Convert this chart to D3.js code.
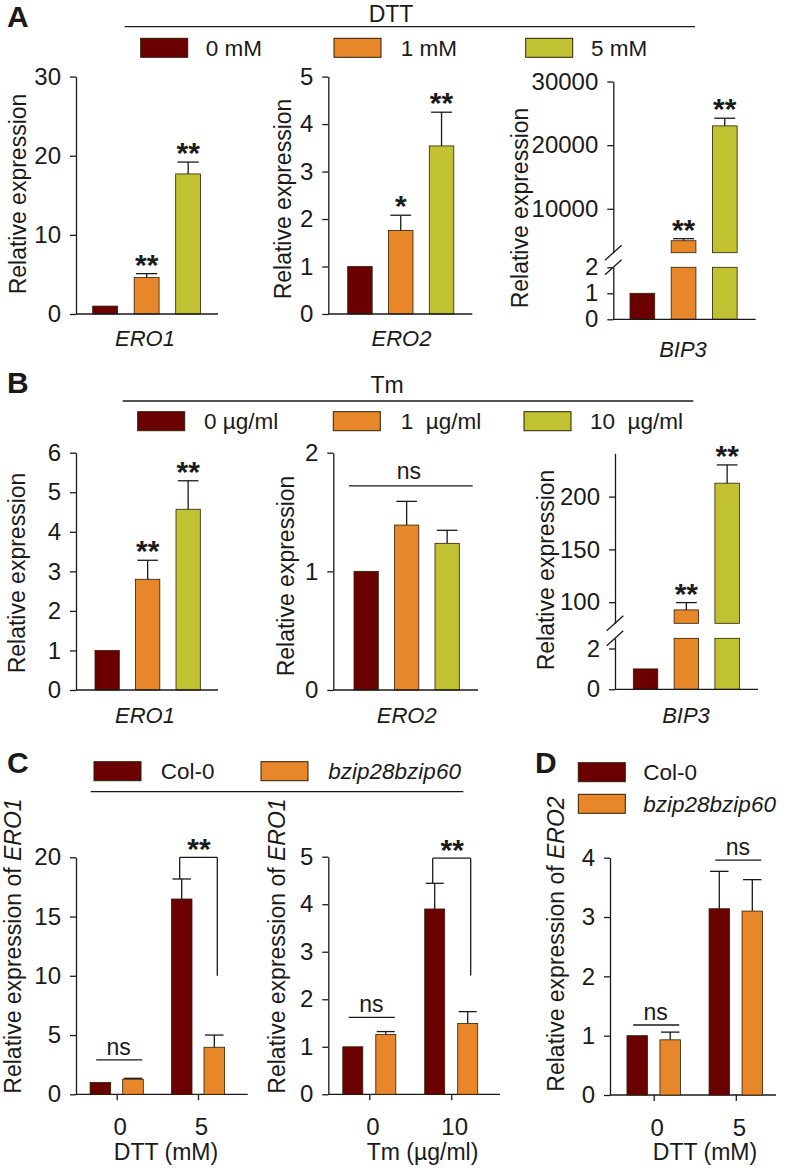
<!DOCTYPE html>
<html><head><meta charset="utf-8">
<script src="https://cdn.jsdelivr.net/npm/d3@7"></script>
<style>body{margin:0;background:#fff}</style>
</head><body>
<svg id="chart" width="788" height="1168"></svg>
<script>
const FONT = "'Liberation Sans', Arial, Helvetica, sans-serif";
const seriesColors = ["#6b0000", "#e8862a", "#c1c232"];
const dttLevels = ["0 mM", "1 mM", "5 mM"];
const tmLevels = ["0 µg/ml", "1\u00a0\u00a0µg/ml", "10\u00a0\u00a0µg/ml"];
const genotypes = ["Col-0", "bzip28bzip60"];

// Panel A (DTT)
const aERO1 = [1, 4.6, 17.7], aERO1Err = [0, 0.5, 1.5], aERO1Sig = ["", "**", "**"];
const aERO2 = [1, 1.76, 3.54], aERO2Err = [0, 0.32, 0.71], aERO2Sig = ["", "*", "**"];
const aBIP3 = [1, 4980, 23030], aBIP3Err = [0, 320, 1200], aBIP3Sig = ["", "**", "**"];
// Panel B (Tm)
const bERO1 = [1, 2.8, 4.57], bERO1Err = [0, 0.48, 0.72], bERO1Sig = ["", "**", "**"];
const bERO2 = [1, 1.39, 1.236], bERO2Err = [0, 0.2, 0.11], bERO2Sig = ["", "", ""];
const bBIP3 = [1, 92.7, 212.7], bBIP3Err = [0, 6.9, 17.3], bBIP3Sig = ["", "**", "**"];
// Panel C / D
const cDttGroups = ["0", "5"];
const cDttCol = [1, 16.48], cDttColErr = [0, 1.69];
const cDttMut = [1.27, 3.97], cDttMutErr = [0.08, 1.03];
const cTmGroups = ["0", "10"];
const cTmCol = [1, 3.9], cTmColErr = [0, 0.54];
const cTmMut = [1.26, 1.49], cTmMutErr = [0.06, 0.25];
const dDttGroups = ["0", "5"];
const dDttCol = [1, 3.14], dDttColErr = [0, 0.63];
const dDttMut = [0.93, 3.10], dDttMutErr = [0.13, 0.53];

// tick labels
const aERO1Ticks = [0, 10, 20, 30], aERO2Ticks = [0, 1, 2, 3, 4, 5];
const aBIP3LowTicks = [0, 1, 2], aBIP3HighTicks = [10000, 20000, 30000];
const bERO1Ticks = [0, 1, 2, 3, 4, 5, 6], bERO2Ticks = [0, 1, 2];
const bBIP3LowTicks = [0, 2], bBIP3HighTicks = [100, 150, 200];
const cDttTicks = [0, 5, 10, 15, 20], cTmTicks = [0, 1, 2, 3, 4, 5], dTicks = [0, 1, 2, 3, 4];

const svg = d3.select("#chart").style("font-family", FONT);
const INK = "#1a1a1a";
const BAR_STROKE = "#2e1f05";
const fmt = d3.format("d");

function text(g, x, y, str, opt = {}) {
  const t = g.append("text").attr("x", x).attr("y", y).text(str)
    .attr("font-size", opt.size || 22).attr("fill", INK)
    .attr("text-anchor", opt.anchor || "start");
  if (opt.italic) t.attr("font-style", "italic");
  if (opt.bold) t.attr("font-weight", "bold");
  return t;
}
function line(g, x1, y1, x2, y2, w = 1.3) {
  g.append("line").attr("x1", x1).attr("y1", y1).attr("x2", x2).attr("y2", y2)
    .attr("stroke", INK).attr("stroke-width", w);
}
function styleAxis(sel) {
  sel.selectAll("path.domain").attr("stroke", INK).attr("stroke-width", 1.3);
  sel.selectAll(".tick line").attr("stroke", INK).attr("stroke-width", 1.3);
  sel.selectAll(".tick text").attr("font-size", 24).attr("font-family", FONT).attr("fill", INK);
}
function leftAxis(scale, ticks) {
  return d3.axisLeft(scale).tickValues(ticks).tickFormat(fmt).tickSize(6).tickSizeOuter(0).tickPadding(9);
}
function yLabel(g, x, yc, parts) {
  const t = g.append("text").attr("transform", `translate(${x},${yc}) rotate(-90)`)
    .attr("text-anchor", "middle").attr("font-size", 23).attr("fill", INK);
  parts.forEach(p => {
    const s = t.append("tspan").text(p.t);
    if (p.i) s.attr("font-style", "italic");
  });
}
function legendItem(g, x, y, color, label, tx, italic) {
  g.append("rect").attr("x", x).attr("y", y).attr("width", 47).attr("height", 19)
    .attr("fill", color).attr("stroke", BAR_STROKE).attr("stroke-width", 1);
  text(g, tx, y + 17.5, label, { italic: italic, size: 22.5 });
}

// ---------- triple-bar panels (A, B) ----------
function triplePanel(cfg) {
  const g = svg.append("g");
  const x = d3.scaleBand().domain(cfg.levels)
    .range([cfg.barStart, cfg.barStart + cfg.step * (cfg.levels.length - 0.4)])
    .paddingInner(0.4).paddingOuter(0);
  const bw = x.bandwidth(), cap = bw * 0.85;
  let yOf;
  if (!cfg.broken) {
    const y = d3.scaleLinear().domain(cfg.domain).range([cfg.y0, cfg.yTop]);
    const ax = g.append("g").attr("transform", `translate(${cfg.axisX},0)`).call(leftAxis(y, cfg.ticks));
    styleAxis(ax);
    cfg.values.forEach((v, i) => {
      g.append("rect").attr("x", x(cfg.levels[i])).attr("width", bw)
        .attr("y", y(v)).attr("height", y(0) - y(v))
        .attr("fill", seriesColors[i]).attr("stroke", BAR_STROKE).attr("stroke-width", 0.8);
    });
    yOf = y;
  } else {
    const b = cfg.broken;
    const yl = d3.scaleLinear().domain(b.lowDomain).range([cfg.y0, b.lowTop]);
    const yu = d3.scaleLinear().domain(b.highDomain).range([b.highBottom, cfg.yTop]);
    const axl = g.append("g").attr("transform", `translate(${cfg.axisX},0)`).call(leftAxis(yl, b.lowTicks));
    const axu = g.append("g").attr("transform", `translate(${cfg.axisX},0)`).call(leftAxis(yu, b.highTicks));
    styleAxis(axl); styleAxis(axu);
    [b.lowTop, b.highBottom].forEach(yy => line(g, cfg.axisX - 8.3, yy + 7.5, cfg.axisX + 8.3, yy - 7.5, 1.3));
    const lowMax = b.lowDomain[1];
    cfg.values.forEach((v, i) => {
      const xi = x(cfg.levels[i]);
      if (v <= lowMax) {
        g.append("rect").attr("x", xi).attr("width", bw).attr("y", yl(v)).attr("height", yl(0) - yl(v))
          .attr("fill", seriesColors[i]).attr("stroke", BAR_STROKE).attr("stroke-width", 0.8);
      } else {
        g.append("rect").attr("x", xi).attr("width", bw).attr("y", yl(lowMax)).attr("height", yl(0) - yl(lowMax))
          .attr("fill", seriesColors[i]).attr("stroke", BAR_STROKE).attr("stroke-width", 0.8);
        g.append("rect").attr("x", xi).attr("width", bw).attr("y", yu(v)).attr("height", yu(b.highDomain[0]) - yu(v))
          .attr("fill", seriesColors[i]).attr("stroke", BAR_STROKE).attr("stroke-width", 0.8);
      }
    });
    yOf = v => (v <= lowMax ? yl(v) : yu(v));
  }
  line(g, cfg.axisX, cfg.y0, cfg.axisEnd, cfg.y0);
  cfg.values.forEach((v, i) => {
    const cx = x(cfg.levels[i]) + bw / 2;
    const e = cfg.err[i];
    let top = yOf(v);
    if (e > 0) {
      top = yOf(v + e);
      line(g, cx, yOf(v), cx, top);
      line(g, cx - cap / 2, top, cx + cap / 2, top);
    }
    if (cfg.sig[i]) {
      text(g, cx, top + 1, cfg.sig[i], { size: 30, bold: true, anchor: "middle" });
    }
  });
  if (cfg.ns) {
    const ly = yOf(cfg.ns.level);
    line(g, cfg.ns.x1, ly, cfg.ns.x2, ly);
    text(g, (cfg.ns.x1 + cfg.ns.x2) / 2 - 2, ly - 7, "ns", { anchor: "middle", size: 23 });
  }
  yLabel(g, cfg.labelX, cfg.labelY, [{ t: "Relative expression" }]);
  text(g, cfg.geneX, cfg.geneY, cfg.gene, { italic: true, anchor: "middle" });
}

// ---------- grouped panels (C, D) ----------
function groupedPanel(cfg) {
  const g = svg.append("g");
  const y = d3.scaleLinear().domain(cfg.domain).range([cfg.y0, cfg.yTop]);
  const xg = d3.scalePoint().domain(cfg.groups).range(cfg.groupCenters);
  const xs = d3.scaleBand().domain(genotypes)
    .range([-(cfg.bw + cfg.innerStep) / 2, (cfg.bw + cfg.innerStep) / 2]).paddingInner(1 - cfg.bw / cfg.innerStep);
  const bw = xs.bandwidth(), cap = bw * 0.9;
  const ax = g.append("g").attr("transform", `translate(${cfg.axisX},0)`).call(leftAxis(y, cfg.ticks));
  styleAxis(ax);
  const bx = g.append("g").attr("transform", `translate(0,${cfg.y0})`)
    .call(d3.axisBottom(xg).tickSize(6).tickPadding(18));
  styleAxis(bx);
  bx.select("path.domain").remove();
  bx.selectAll(".tick text").attr("dx", 3);
  line(g, cfg.axisX, cfg.y0, cfg.axisEnd, cfg.y0);
  const series = [cfg.col, cfg.mut], errs = [cfg.colErr, cfg.mutErr];
  const tops = {};
  cfg.groups.forEach((grp, gi) => {
    tops[grp] = [];
    genotypes.forEach((gt, si) => {
      const v = series[si][gi], e = errs[si][gi];
      const xi = xg(grp) + xs(gt), cx = xi + bw / 2;
      g.append("rect").attr("x", xi).attr("width", bw).attr("y", y(v)).attr("height", y(0) - y(v))
        .attr("fill", seriesColors[si]).attr("stroke", BAR_STROKE).attr("stroke-width", 0.8);
      let top = y(v);
      if (e > 0) {
        top = y(v + e);
        line(g, cx, y(v), cx, top);
        line(g, cx - cap / 2, top, cx + cap / 2, top);
      }
      tops[grp].push({ cx, top });
    });
  });
  cfg.annotations.forEach(a => {
    const c = xg(a.group);
    if (a.type === "ns") {
      const ly = y(a.level);
      line(g, c - 22 + 1.5, ly, c + 24 + 1.5, ly);
      text(g, c + 2, ly - 5, "ns", { anchor: "middle", size: 23 });
    } else {
      const [l, r] = tops[a.group];
      const ly = y(a.level);
      line(g, l.cx - 2, l.top, l.cx - 2, ly);
      line(g, l.cx - 2, ly, r.cx + 3, ly);
      line(g, r.cx + 3, ly, r.cx + 3, y(a.rightEnd));
      text(g, (l.cx + r.cx) / 2 + 1, ly + 2, a.label, { size: 30, bold: true, anchor: "middle" });
    }
  });
  yLabel(g, cfg.labelX, cfg.labelY, [{ t: "Relative expression of " }, { t: cfg.gene, i: true }]);
  text(g, cfg.titleX, 1160, cfg.title, { anchor: "middle", size: 23 });
}

// ===== Panel A =====
const gA = svg.append("g");
text(gA, 7, 27, "A", { size: 30, bold: true });
text(gA, 391, 21.5, "DTT", { anchor: "middle", size: 23 });
line(gA, 124.7, 26.7, 695, 26.7);
legendItem(gA, 140.7, 38.3, seriesColors[0], dttLevels[0], 205.7);
legendItem(gA, 334, 38.3, seriesColors[1], dttLevels[1], 400.7);
legendItem(gA, 525.7, 38.3, seriesColors[2], dttLevels[2], 591);

triplePanel({ levels: dttLevels, values: aERO1, err: aERO1Err, sig: aERO1Sig, domain: [0, 30], ticks: aERO1Ticks,
  axisX: 76, axisEnd: 218, y0: 314, yTop: 76.6, barStart: 92.7, step: 41.5,
  labelX: 26, labelY: 194, gene: "ERO1", geneX: 145, geneY: 346 });
triplePanel({ levels: dttLevels, values: aERO2, err: aERO2Err, sig: aERO2Sig, domain: [0, 5], ticks: aERO2Ticks,
  axisX: 328.3, axisEnd: 472.3, y0: 314, yTop: 76.6, barStart: 347.7, step: 40.8,
  labelX: 291, labelY: 199, gene: "ERO2", geneX: 401.5, geneY: 346 });
triplePanel({ levels: dttLevels, values: aBIP3, err: aBIP3Err, sig: aBIP3Sig,
  broken: { lowDomain: [0, 2], lowTop: 267.3, lowTicks: aBIP3LowTicks, highDomain: [3100, 30000], highBottom: 252.7, highTicks: aBIP3HighTicks },
  axisX: 613.3, axisEnd: 755.7, y0: 319.3, yTop: 81.5, barStart: 630, step: 41.2,
  labelX: 528, labelY: 208, gene: "BIP3", geneX: 683, geneY: 356.5 });

// ===== Panel B =====
const gB = svg.append("g");
text(gB, 7, 393, "B", { size: 30, bold: true });
text(gB, 387, 393, "Tm", { anchor: "middle", size: 23 });
line(gB, 122.7, 401, 693.3, 401);
legendItem(gB, 137.7, 411.7, seriesColors[0], tmLevels[0], 204);
legendItem(gB, 333.3, 411.7, seriesColors[1], tmLevels[1], 400.7);
legendItem(gB, 524, 411.7, seriesColors[2], tmLevels[2], 590);

triplePanel({ levels: tmLevels, values: bERO1, err: bERO1Err, sig: bERO1Sig, domain: [0, 6], ticks: bERO1Ticks,
  axisX: 76, axisEnd: 218, y0: 690, yTop: 452.7, barStart: 95, step: 40.5,
  labelX: 25, labelY: 573, gene: "ERO1", geneX: 145, geneY: 723 });
triplePanel({ levels: tmLevels, values: bERO2, err: bERO2Err, sig: bERO2Sig, domain: [0, 2], ticks: bERO2Ticks,
  axisX: 333.3, axisEnd: 478, y0: 690, yTop: 452.7, barStart: 354, step: 40.5,
  ns: { level: 1.72, x1: 349, x2: 472.7 },
  labelX: 294, labelY: 576, gene: "ERO2", geneX: 406.7, geneY: 723 });
triplePanel({ levels: tmLevels, values: bBIP3, err: bBIP3Err, sig: bBIP3Sig,
  broken: { lowDomain: [0, 2.5], lowTop: 638.3, lowTicks: bBIP3LowTicks, highDomain: [80, 241], highBottom: 623.3, highTicks: bBIP3HighTicks },
  axisX: 615, axisEnd: 758, y0: 689.3, yTop: 453.3, barStart: 633.3, step: 40.8,
  labelX: 554, labelY: 570, gene: "BIP3", geneX: 686, geneY: 723 });

// ===== Panel C =====
const gC = svg.append("g");
text(gC, 7, 773, "C", { size: 30, bold: true });
legendItem(gC, 94, 761.7, seriesColors[0], genotypes[0], 160.7);
legendItem(gC, 261, 761.7, seriesColors[1], genotypes[1], 328.3, true);
line(gC, 90.7, 791.7, 463.3, 791.7);

groupedPanel({ groups: cDttGroups, col: cDttCol, colErr: cDttColErr, mut: cDttMut, mutErr: cDttMutErr,
  domain: [0, 20], ticks: cDttTicks, axisX: 76, axisEnd: 247.7, y0: 1094.3, yTop: 857.3,
  groupCenters: [116.7, 198], bw: 20.6, innerStep: 32.6,
  annotations: [{ group: "0", type: "ns", level: 2.9 }, { group: "5", type: "bracket", level: 20, rightEnd: 10, label: "**" }],
  labelX: 21, labelY: 946, gene: "ERO1", title: "DTT (mM)", titleX: 166 });
groupedPanel({ groups: cTmGroups, col: cTmCol, colErr: cTmColErr, mut: cTmMut, mutErr: cTmMutErr,
  domain: [0, 5], ticks: cTmTicks, axisX: 328.3, axisEnd: 500, y0: 1094.3, yTop: 856.7,
  groupCenters: [369.3, 451.2], bw: 20, innerStep: 33,
  annotations: [{ group: "0", type: "ns", level: 1.62 }, { group: "10", type: "bracket", level: 4.97, rightEnd: 2.5, label: "**" }],
  labelX: 285, labelY: 946, gene: "ERO1", title: "Tm (µg/ml)", titleX: 422.5 });

// ===== Panel D =====
const gD = svg.append("g");
text(gD, 535, 773, "D", { size: 30, bold: true });
legendItem(gD, 578.3, 762.7, seriesColors[0], genotypes[0], 643.3);
legendItem(gD, 578.3, 794.3, seriesColors[1], genotypes[1], 643.3, true);
groupedPanel({ groups: dDttGroups, col: dDttCol, colErr: dDttColErr, mut: dDttMut, mutErr: dDttMutErr,
  domain: [0, 4], ticks: dTicks, axisX: 610, axisEnd: 776, y0: 1095, yTop: 857.7,
  groupCenters: [653.7, 735.8], bw: 20.5, innerStep: 33,
  annotations: [{ group: "0", type: "ns", level: 1.18 }, { group: "5", type: "ns", level: 3.96 }],
  labelX: 564, labelY: 944, gene: "ERO2", title: "DTT (mM)", titleX: 705 });
</script>
</body></html>
